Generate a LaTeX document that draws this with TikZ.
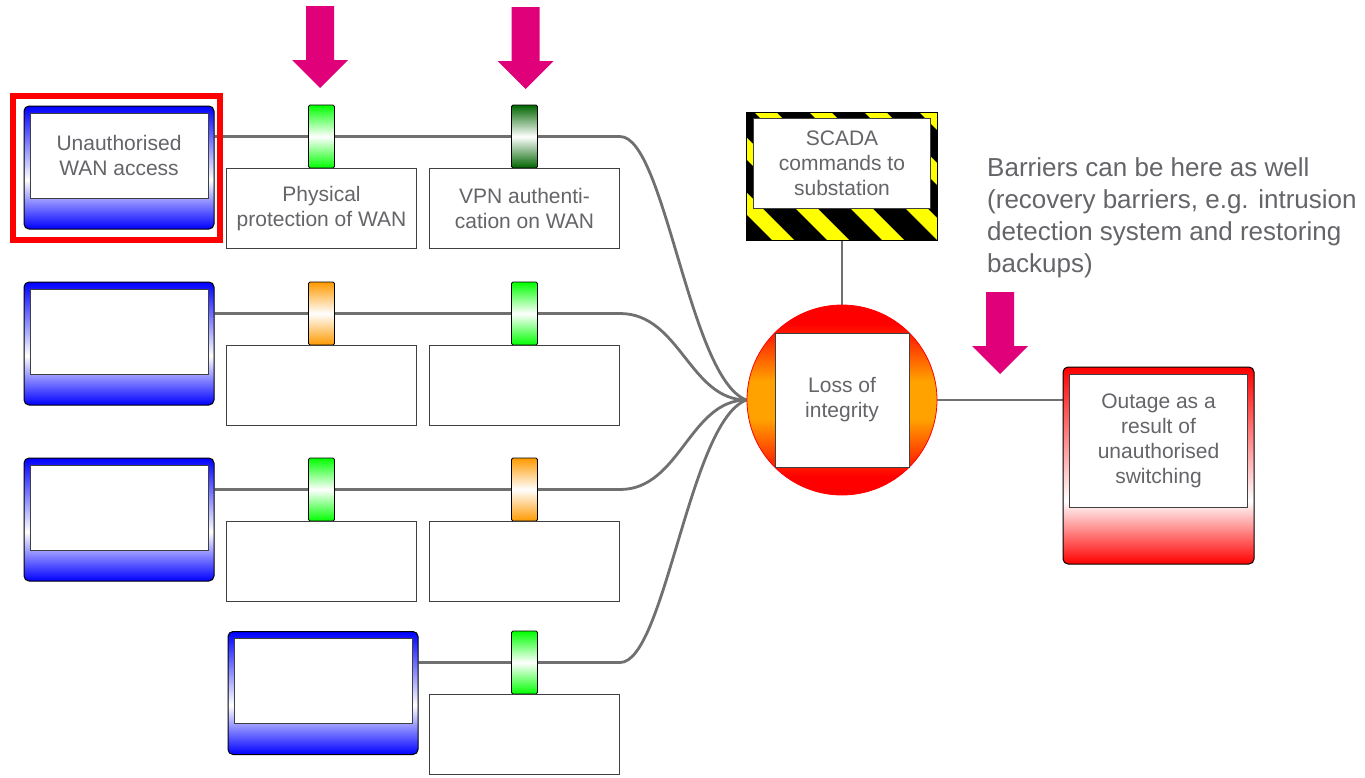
\documentclass[tikz,border=0pt]{standalone}
\usepackage{fontspec}
\setmainfont{Liberation Sans}
\usepackage{tikz}
\usetikzlibrary{
  positioning, calc, backgrounds
}
\definecolor{RiskGray}{HTML}{646469}
\definecolor{LinkGray}{HTML}{707070}
\definecolor{ThreatBlue}{HTML}{0000FF}
\definecolor{BarrierGreen}{HTML}{00FF00}
\definecolor{BarrierDark}{HTML}{006400}
\definecolor{BarrierOrange}{HTML}{FF9900}
\definecolor{EventOrange}{HTML}{FFA200}
\definecolor{HazardYellow}{HTML}{FFFF00}
\definecolor{ArrowPink}{HTML}{E0007A}

\pgfdeclareverticalshading{threatshade}{100bp}{color(0bp)=(ThreatBlue); color(25bp)=(ThreatBlue); color(45bp)=(white); color(75bp)=(ThreatBlue); color(100bp)=(ThreatBlue)}
\pgfdeclareverticalshading{consshade}{100bp}{color(0bp)=(red); color(25bp)=(red); color(41bp)=(white); color(75bp)=(red); color(100bp)=(red)}
\pgfdeclareverticalshading{eventshade}{100bp}{color(0bp)=(red); color(30bp)=(red); color(45bp)=(EventOrange); color(55bp)=(EventOrange); color(70bp)=(red); color(100bp)=(red)}

\begin{document}
\begin{tikzpicture}[
  x=1pt, y=-1pt,
  panel/.style={rectangle, draw=black!75, line width=1pt, fill=white, align=center, text=RiskGray, font=\fontsize{21}{25}\selectfont, inner sep=0pt},
  threat/.style={rectangle, rounded corners=5pt, draw=black, line width=1pt, shading=threatshade, minimum width=190, minimum height=123, inner sep=0pt},
  tpanel/.style={panel, minimum width=178, minimum height=85},
  tab/.style={rectangle, draw=black, line width=0.8pt, rounded corners=1.5pt, minimum width=26, minimum height=63, inner sep=0pt, top color=#1, bottom color=#1, middle color=white},
  bbox/.style={panel, minimum width=190, minimum height=80},
  event/.style={circle, draw=red, line width=0.8pt, shading=eventshade, minimum size=190, inner sep=0pt},
  hazard/.style={rectangle, draw=black, fill=black, line width=1pt, minimum width=191, minimum height=128, inner sep=0pt,
    path picture={\foreach \k in {-3,...,4} \fill[HazardYellow] ([xshift=\k*55pt+7.5pt]path picture bounding box.north west) -- ++(22,0) -- ++(128,128) -- ++(-22,0) -- cycle;}},
  conseq/.style={rectangle, rounded corners=5pt, draw=black, line width=1pt, shading=consshade, minimum width=191, minimum height=197, inner sep=0pt},
  note/.style={align=left, text=RiskGray, font=\fontsize{26}{32}\selectfont, inner sep=0pt},
  link/.style={draw=LinkGray, line width=2.8pt},
  highlight/.style={draw=red, line width=6pt},
  pinkarrow/.pic={\fill[ArrowPink] (-14,0) -- (14,0) -- (14,54) -- (28,54) -- (0,82) -- (-28,54) -- (-14,54) -- cycle;}
]
\useasboundingbox (0,0) rectangle (1365,777);

\node[threat] (t1) at (119,167.5) {};
\node[tpanel, below=7pt of t1.north] (t1in) {Unauthorised\\WAN access};
\node[threat] (t2) at (119,343.5) {};
\node[tpanel, below=7pt of t2.north] (t2in) {};
\node[threat] (t3) at (119,519.5) {};
\node[tpanel, below=7pt of t3.north] (t3in) {};
\node[threat] (t4) at (323,693) {};
\node[tpanel, below=7pt of t4.north] (t4in) {};

\draw[highlight] ([shift={(-11,-10)}]t1.north west) rectangle ([shift={(5,10)}]t1.south east);

\node[tab=BarrierGreen] (b11) at (321.5,136.5) {};
\node[bbox, below=0pt of b11] (bx11) {Physical\\protection of WAN};
\node[tab=BarrierDark] (b12) at (524.5,136.5) {};
\node[bbox, below=0pt of b12] (bx12) {VPN authenti-\\cation on WAN};

\node[tab=BarrierOrange] (b21) at (321.5,313.5) {};
\node[bbox, below=0pt of b21] (bx21) {};
\node[tab=BarrierGreen] (b22) at (524.5,313.5) {};
\node[bbox, below=0pt of b22] (bx22) {};

\node[tab=BarrierGreen] (b31) at (321.5,489.5) {};
\node[bbox, below=0pt of b31] (bx31) {};
\node[tab=BarrierOrange] (b32) at (524.5,489.5) {};
\node[bbox, below=0pt of b32] (bx32) {};

\node[tab=BarrierGreen] (b42) at (524.5,662.5) {};
\node[bbox, below=0pt of b42] (bx42) {};

\node[event] (ev) at (842,400) {};
\node[panel, minimum size=134] (evin) at (ev) {Loss of\\integrity};

\node[hazard] (cause) at (842,176) {};
\node[panel, minimum width=177, minimum height=90, below=6pt of cause.north] (causein) {SCADA\\commands to\\substation};

\node[conseq] (cons) at (1158.5,465.5) {};
\node[panel, minimum width=178, minimum height=133, below=7pt of cons.north] (consin) {Outage as a\\result of\\unauthorised\\switching};

\node[note, anchor=north west] (note) at (987,157) {Barriers can be here as well\\(recovery barriers, e.g. intrusion\\detection system and restoring\\backups)};

\pic at (320,6) {pinkarrow};
\pic at (525.5,7) {pinkarrow};
\pic at (1000,292) {pinkarrow};

\begin{scope}[on background layer]
\draw[link] (t1.east |- b11) -- (b11) -- (b12) -- (b12 -| bx12.east) .. controls +(45,0) and +(-57,-20) .. (ev.west);
\draw[link] (t2.east |- b21) -- (b21) -- (b22) -- (b22 -| bx22.east) .. controls +(60,0) and +(-57,0) .. (ev.west);
\draw[link] (t3.east |- b31) -- (b31) -- (b32) -- (b32 -| bx32.east) .. controls +(60,0) and +(-57,0) .. (ev.west);
\draw[link] (t4.east |- b42) -- (b42) -- (b42 -| bx42.east) .. controls +(45,0) and +(-57,20) .. (ev.west);
\draw[link] (cause.south) -- (ev.north);
\draw[link] (ev.east) -- (ev.east -| cons.west);
\end{scope}
\end{tikzpicture}
\end{document}
